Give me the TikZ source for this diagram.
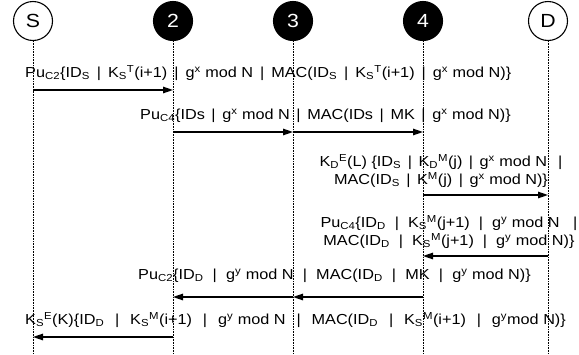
\documentclass[tikz,border=0pt]{standalone}
\usepackage{fontspec}
\setmainfont{Liberation Sans}[FakeStretch=1.12]
\usetikzlibrary{arrows.meta}
\newcommand{\sbs}[1]{\textsubscript{#1}}
\newcommand{\sps}[1]{\textsuperscript{#1}}
\newlength{\sepgap}
\setlength{\sepgap}{5pt}
\newcommand{\vb}{\hspace{\sepgap}|\hspace{\sepgap}}
\begin{document}
\begin{tikzpicture}[x=1pt,y=-1pt,
  actorw/.style={circle, draw, line width=1.1pt, minimum size=39pt, inner sep=0pt,
                 font=\fontsize{19}{19}\selectfont},
  actorb/.style={actorw, fill=black, text=white},
  life/.style={densely dotted, line width=0.6pt},
  msg/.style={line width=1.3pt, -{Triangle[length=10pt,width=6.5pt]}},
  lbl/.style={font=\fontsize{14.5}{18}\selectfont, inner sep=0pt, align=center,
              execute at begin node={\setlength{\sepgap}{#1}}},
  lbl/.default=5pt]
\useasboundingbox (0,0) rectangle (579,354);

% participants
\node[actorw] (S)  at (33,21)  {S};
\node[actorb] (n2) at (173,21) {2};
\node[actorb] (n3) at (293,21) {3};
\node[actorb] (n4) at (423,21) {4};
\node[actorw] (D)  at (548,21) {D};

% lifelines
\foreach \p in {S,n2,n3,n4,D}
  \draw[life] (\p.south) -- (\p |- 0,354);

% message points on the lifelines
\foreach \p in {S,n2,n3,n4,D}{
  \coordinate (\p-1) at (\p |- 0,90);
  \coordinate (\p-2) at (\p |- 0,132);
  \coordinate (\p-3) at (\p |- 0,195);
  \coordinate (\p-4) at (\p |- 0,256);
  \coordinate (\p-5) at (\p |- 0,297);
  \coordinate (\p-6) at (\p |- 0,337);
}

% messages
\draw[msg] (S-1) -- (n2-1);
\draw[msg] (n2-2) -- (n3-2);
\draw[msg] (n3-2) -- (n4-2);
\draw[msg] (n4-3) -- (D-3);
\draw[msg] (D-4) -- (n4-4);
\draw[msg] (n4-5) -- (n3-5);
\draw[msg] (n3-5) -- (n2-5);
\draw[msg] (n2-6) -- (S-6);

% message labels
\node[lbl=7pt, anchor=west] (t1) at (25,73)
  {Pu\sbs{C2}\{ID\sbs{S}\vb K\sbs{S}\sps{T}(i+1)\vb g\sps{x} mod N\vb MAC(ID\sbs{S}\vb K\sbs{S}\sps{T}(i+1)\vb g\sps{x} mod N)\}};
\node[lbl=6.6pt, anchor=west] (t2) at (140,116)
  {Pu\sbs{C4}\{IDs\vb g\sps{x} mod N\vb MAC(IDs\vb MK\vb g\sps{x} mod N)\}};
\node[lbl=6.5pt] (t3) at (441,171)
  {K\sbs{D}\sps{E}(L) \{ID\sbs{S}\vb K\sbs{D}\sps{M}(j)\vb g\sps{x} mod N \hspace{\sepgap}|\\
   MAC(ID\sbs{S}\vb K\sps{M}(j)\vb g\sps{x} mod N)\}};
\node[lbl=9pt] (t4) at (449,232)
  {Pu\sbs{C4}\{ID\sbs{D}\vb K\sbs{S}\sps{M}(j+1)\vb g\sps{y} mod N \hspace{\sepgap}|\\
   MAC(ID\sbs{D}\vb K\sbs{S}\sps{M}(j+1)\vb g\sps{y} mod N)\}};
\node[lbl=9.2pt, anchor=west] (t5) at (138,276)
  {Pu\sbs{C2}\{ID\sbs{D}\vb g\sps{y} mod N\vb MAC(ID\sbs{D}\vb MK\vb g\sps{y} mod N)\}};
\node[lbl=10.9pt, anchor=west] (t6) at (25,320)
  {K\sbs{S}\sps{E}(K)\{ID\sbs{D}\vb K\sbs{S}\sps{M}(i+1)\vb g\sps{y} mod N\vb MAC(ID\sbs{D}\vb K\sbs{S}\sps{M}(i+1)\vb g\sps{y}mod N)\}};
\end{tikzpicture}
\end{document}
